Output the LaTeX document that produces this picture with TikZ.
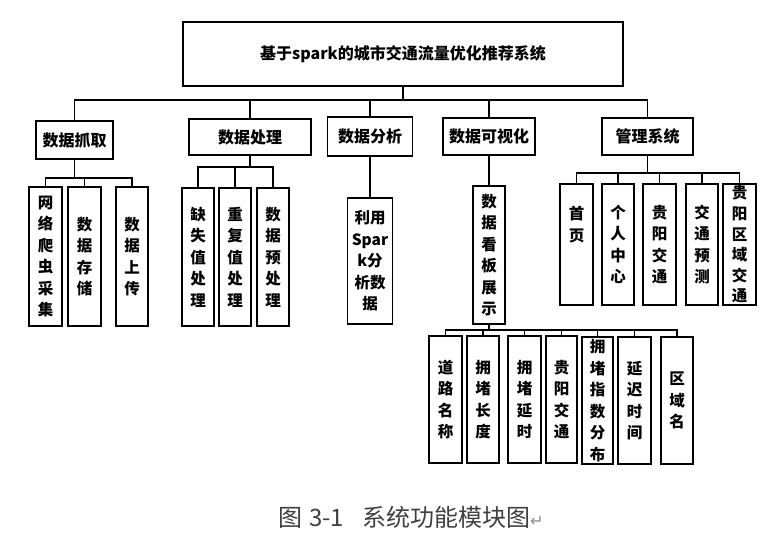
\documentclass[tikz,border=0pt]{standalone}
\usepackage{fontspec}
\setmainfont{Noto Sans CJK SC}
\newfontfamily\symfont{DejaVu Sans}
\begin{document}
\begin{tikzpicture}[x=1pt,y=-1pt,
  box/.style={draw=black,line width=1.2pt,rectangle,inner sep=0pt,align=center,
    font=\fontsize{16}{20}\selectfont\bfseries},
  vbox/.style={box,minimum width=32pt,
    font=\fontsize{15.5}{21.5}\selectfont\bfseries},
  link/.style={draw=black,line width=1.1pt}]
\useasboundingbox (0,0) rectangle (775,533);
% root
\node[box,minimum width=440pt,minimum height=64pt] (root) at (403,54) {基于spark的城市交通流量优化推荐系统};
% level 1
\node[box,minimum width=77pt,minimum height=38pt] (a) at (74.5,140) {数据抓取};
\node[box,minimum width=122pt,minimum height=36pt] (b) at (250,137) {数据处理};
\node[box,minimum width=85pt,minimum height=39pt] (c) at (370,136.5) {数据分析};
\node[box,minimum width=92pt,minimum height=37pt] (d) at (489,136.5) {数据可视化};
\node[box,minimum width=91pt,minimum height=37pt] (e) at (647.5,136.5) {管理系统};
% level 2
\node[vbox,minimum width=33pt,minimum height=139pt] (a1) at (45.5,256.5) {网\\络\\爬\\虫\\采\\集};
\node[vbox,minimum width=33pt,minimum height=139pt] (a2) at (84.5,256.5) {数\\据\\存\\储};
\node[vbox,minimum width=32pt,minimum height=139pt] (a3) at (132,256.5) {数\\据\\上\\传};
\node[vbox,minimum height=138pt] (b1) at (198,257) {缺\\失\\值\\处\\理};
\node[vbox,minimum height=138pt] (b2) at (235,257) {重\\复\\值\\处\\理};
\node[vbox,minimum height=138pt] (b3) at (273,257) {数\\据\\预\\处\\理};
\node[vbox,minimum width=45.5pt,minimum height=126pt] (c1) at (370,261) {利用\\Spar\\k分\\析数\\据};
\node[vbox,minimum height=138pt] (d1) at (489,255) {数\\据\\看\\板\\展\\示};
\node[vbox,minimum width=33pt,minimum height=121pt] (e1) at (576.5,244.5) {首\\页\\[20pt]};
\node[vbox,minimum height=121pt] (e2) at (618,244.5) {个\\人\\中\\心};
\node[vbox,minimum width=33pt,minimum height=121pt] (e3) at (659.5,244.5) {贵\\阳\\交\\通};
\node[vbox,minimum height=121pt] (e4) at (702,244.5) {交\\通\\预\\测};
\node[vbox,minimum width=33pt,minimum height=121pt,font=\fontsize{15.5}{20.6}\selectfont\bfseries] (e5) at (739.5,244.5) {贵\\阳\\区\\域\\交\\通};
% level 3
\node[vbox,minimum width=33pt,minimum height=127pt] (f1) at (445.5,399.5) {道\\路\\名\\称};
\node[vbox,minimum height=127pt] (f2) at (483,399.5) {拥\\堵\\长\\度};
\node[vbox,minimum width=33pt,minimum height=127pt] (f3) at (524.5,399.5) {拥\\堵\\延\\时};
\node[vbox,minimum width=31pt,minimum height=127pt] (f4) at (561.5,399.5) {贵\\阳\\交\\通};
\node[vbox,minimum width=31pt,minimum height=127pt] (f5) at (597.5,400.5) {拥\\堵\\指\\数\\分\\布};
\node[vbox,minimum width=33pt,minimum height=127pt] (f6) at (634.5,400.5) {延\\迟\\时\\间};
\node[vbox,minimum height=127pt] (f7) at (677,400.5) {区\\域\\名};
% bus coordinates
\coordinate (rbus) at (403,100);
\coordinate (abus) at (74.5,178);
\coordinate (bbus) at (250,167);
\coordinate (ebus) at (647.5,173);
\coordinate (dbus) at (489,330);
% connectors
\draw[link] (root.south) -- (rbus);
\foreach \n in {a,b,c,d,e} \draw[link] (rbus) -| (\n.north);
\draw[link] (a.south) -- (abus);
\foreach \n in {a1,a2,a3} \draw[link] (abus) -| (\n.north);
\draw[link] (b.south) -- (bbus);
\foreach \n in {b1,b2,b3} \draw[link] (bbus) -| (\n.north);
\draw[link] (c.south) -- (c1.north);
\draw[link] (d.south) -- (d1.north);
\draw[link] (e.south) -- (ebus);
\foreach \n in {e1,e2,e3,e4,e5} \draw[link] (ebus) -| (\n.north);
\draw[link] (d1.south) -- (dbus);
\foreach \n in {f1,f2,f3,f4,f5,f6,f7} \draw[link] (dbus) -| (\n.north);
% caption
\node[anchor=west,inner sep=0pt,text=black!75,font=\fontsize{24}{28}\selectfont] (cap) at (278,517)
  {图\hspace{7pt}3-1\hspace{18pt}系统功能模块图{\symfont\fontsize{16}{18}\selectfont\color{black!45}↵}};
\end{tikzpicture}
\end{document}
